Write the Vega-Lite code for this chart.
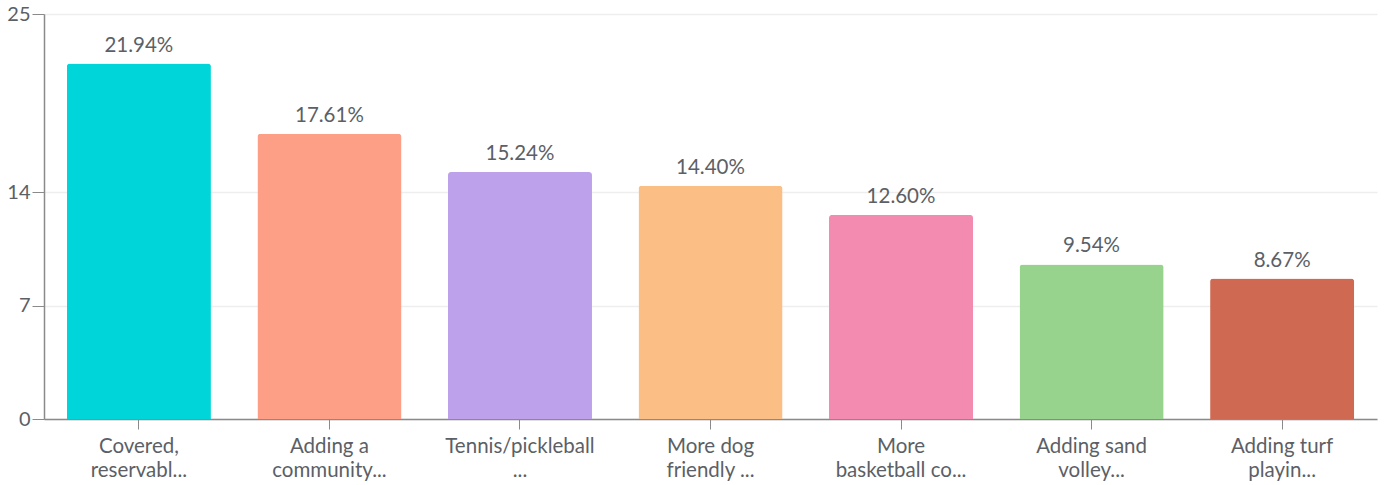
{
  "$schema": "https://vega.github.io/schema/vega-lite/v6.json",
  "width": 1333,
  "height": 405,
  "padding": {"left": 44, "top": 14, "right": 7, "bottom": 66},
  "autosize": {"type": "none"},
  "background": "white",
  "config": {
    "font": "Lato",
    "view": {"stroke": null}
  },
  "data": {
    "values": [
      {"label": "Covered,|reservabl...", "value": 21.94, "color": "#00D5D9"},
      {"label": "Adding a|community...", "value": 17.61, "color": "#FD9F86"},
      {"label": "Tennis/pickleball|...", "value": 15.24, "color": "#BEA1EB"},
      {"label": "More dog|friendly ...", "value": 14.40, "color": "#FBBE84"},
      {"label": "More|basketball co...", "value": 12.60, "color": "#F38AAF"},
      {"label": "Adding sand|volley...", "value": 9.54, "color": "#97D38C"},
      {"label": "Adding turf|playin...", "value": 8.67, "color": "#CF6952"}
    ]
  },
  "encoding": {
    "x": {
      "field": "label",
      "type": "nominal",
      "sort": null,
      "scale": {"paddingInner": 0.244, "paddingOuter": 0.12},
      "axis": {
        "title": null,
        "labelAngle": 0,
        "labelExpr": "split(datum.label, '|')",
        "labelFontSize": 20.5,
        "labelColor": "#5c5f66",
        "labelLineHeight": 24,
        "labelPadding": 7,
        "tickSize": 10,
        "tickColor": "#8a8a8a",
        "domainColor": "#8a8a8a",
        "domainWidth": 1.5,
        "grid": false
      }
    },
    "y": {
      "field": "value",
      "type": "quantitative",
      "scale": {"domain": [0, 25], "nice": false},
      "axis": {
        "title": null,
        "values": [0, 7, 14, 25],
        "labelFontSize": 20,
        "labelColor": "#5c5f66",
        "labelPadding": 2,
        "tickSize": 12,
        "tickColor": "#8a8a8a",
        "domainColor": "#8a8a8a",
        "domainWidth": 1.5,
        "gridColor": "#eeeeee",
        "gridWidth": 1.5
      }
    }
  },
  "layer": [
    {
      "mark": {"type": "bar", "cornerRadiusTopLeft": 3, "cornerRadiusTopRight": 3},
      "encoding": {
        "color": {"field": "color", "type": "nominal", "scale": null, "legend": null}
      }
    },
    {
      "transform": [{"calculate": "format(datum.value, '.2f') + '%'", "as": "pct"}],
      "mark": {"type": "text", "baseline": "bottom", "dy": -8, "fontSize": 20.5, "color": "#5c5f66"},
      "encoding": {
        "text": {"field": "pct", "type": "nominal"}
      }
    }
  ]
}
